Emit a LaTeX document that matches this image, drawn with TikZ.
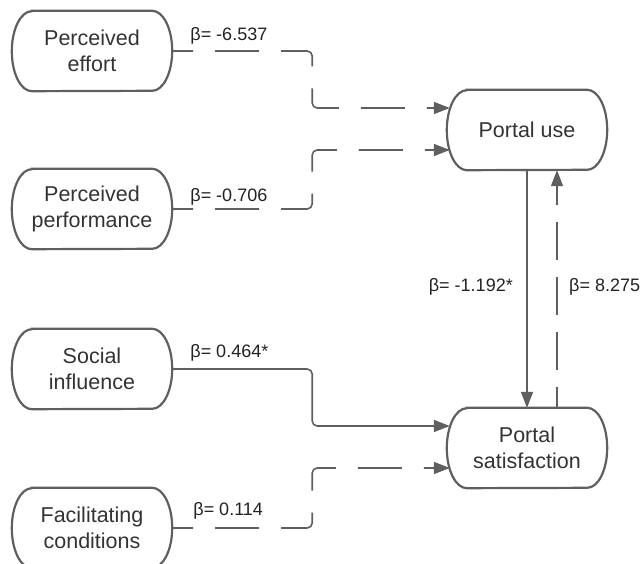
\documentclass[tikz,border=0pt]{standalone}
\usepackage{fontspec}
\setmainfont{Liberation Sans}
\usetikzlibrary{arrows.meta,calc}
\definecolor{edgegray}{HTML}{5F5F5F}
\definecolor{ink}{HTML}{333333}
\definecolor{labelink}{HTML}{222222}
\begin{document}
\begin{tikzpicture}[x=1pt,y=-1pt,
  construct/.style={minimum width=160pt,minimum height=80pt,inner sep=0pt,
    align=center,text=ink,font=\fontsize{21.5}{26}\selectfont},
  boxline/.style={draw=edgegray,line width=2.2pt},
  link/.style={draw=edgegray,line width=1.6pt,rounded corners=5pt,
    -{Triangle[length=16pt,width=12pt]}},
  dashlink/.style={link,dash pattern=on 44pt off 22pt,dash phase=23pt},
  coef/.style={text=labelink,inner sep=0pt,font=\fontsize{18}{22}\selectfont}]
\useasboundingbox (0,0) rectangle (643,564);
\clip (0,0) rectangle (643,564);

% constructs
\node[construct] (effort) at (92,51)  {Perceived\\effort};
\node[construct] (perf)   at (92,209) {Perceived\\performance};
\node[construct] (social) at (92,369) {Social\\influence};
\node[construct] (facil)  at (92,528) {Facilitating\\conditions};
\node[construct] (use)    at (527,130) {Portal use};
\node[construct] (sat)    at (527,448) {Portal\\satisfaction};

% terminator outlines with elliptical ends
\foreach \n in {effort,perf,social,facil,use,sat}
  \draw[boxline] ([xshift=20pt]\n.north west) -- ([xshift=-20pt]\n.north east)
    arc[start angle=90,end angle=-90,x radius=20pt,y radius=40pt]
    -- ([xshift=20pt]\n.south west)
    arc[start angle=270,end angle=90,x radius=20pt,y radius=40pt] -- cycle;

% entry points on the curved ends
\coordinate (useA) at ($(use.west)+(3,-22)$);
\coordinate (useB) at ($(use.west)+(3,20)$);
\coordinate (satA) at ($(sat.west)+(3,-22)$);
\coordinate (satB) at ($(sat.west)+(3,20)$);

% paths into portal use / satisfaction
\draw[dashlink] (effort.east) -- ++(140,0) |- (useA);
\draw[dashlink] (perf.east)   -- ++(140,0) |- (useB);
\draw[link]     (social.east) -- ++(140,0) |- (satA);
\draw[dashlink] (facil.east)  -- ++(140,0) |- (satB);

% reciprocal paths
\draw[link] (use.south) -- (sat.north);
\draw[link,dash pattern=on 38pt off 17pt,dash phase=17pt]
  ($(sat.north)+(30,0)$) -- ($(use.south)+(30,0)$);

% coefficients
\node[coef,anchor=west] at ($(effort.east)+(18,-15)$) {β= -6.537};
\node[coef,anchor=west] at ($(perf.east)+(18,-12)$)   {β= -0.706};
\node[coef,anchor=west] at ($(social.east)+(18,-16)$) {β= 0.464*};
\node[coef,anchor=west] at ($(facil.east)+(21,-17)$)  {β= 0.114};
\node[coef,anchor=east] at ($(use.south)!0.5!(sat.north)+(-14,-2)$) {β= -1.192*};
\node[coef,anchor=west] at ($(use.south)!0.5!(sat.north)+(42,-2)$)  {β= 8.275};
\end{tikzpicture}
\end{document}
